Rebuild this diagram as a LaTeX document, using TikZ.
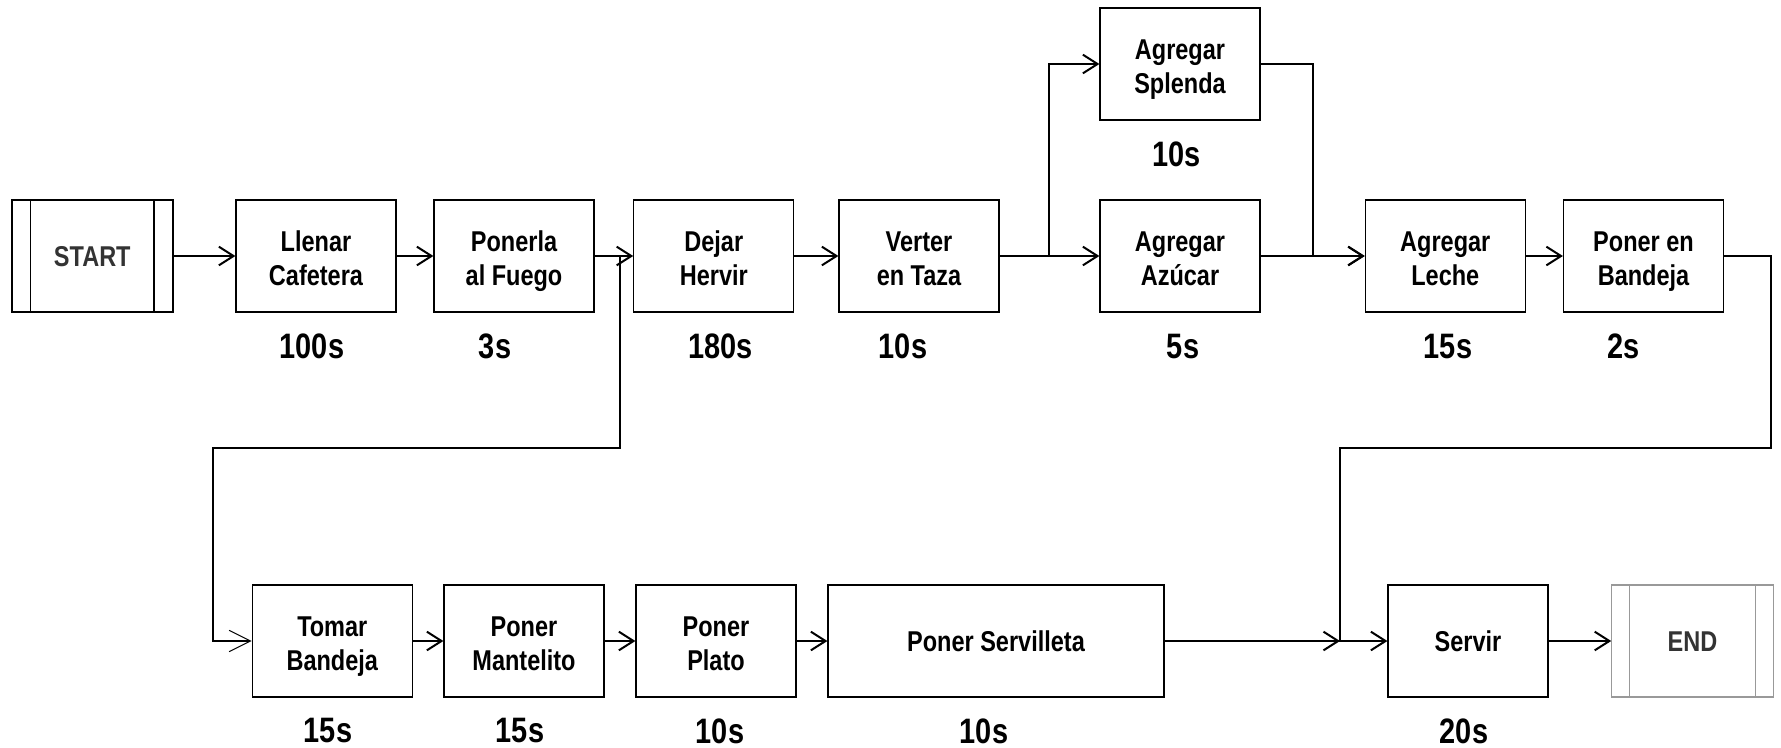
\documentclass[tikz,border=0pt]{standalone}
\usepackage{fontspec}
\IfFontExistsTF{Liberation Sans Narrow}{\setmainfont{Liberation Sans Narrow}}{\setmainfont[FakeStretch=0.82]{Liberation Sans}}
\usetikzlibrary{arrows.meta}
\definecolor{darkgraytxt}{HTML}{333333}
\definecolor{endgray}{HTML}{999999}
\newcommand\boxfont{\fontsize{21.5}{26}\selectfont\bfseries}
\newcommand\timefont{\fontsize{26.5}{32}\selectfont\bfseries}
\tikzset{
  box/.style={draw, line width=0.9pt, minimum width=120pt, minimum height=84pt, align=center, inner sep=0pt, font=\boxfont, text height=44.8pt, text depth=0pt},
  onebox/.style={box, text height=16pt, text depth=0pt},
  timelabel/.style={inner sep=0pt, font=\timefont},
  conn/.style={line width=1.5pt, -{Straight Barb[length=11pt,width=14pt]}},
  thinconn/.style={line width=0.8pt, -{Straight Barb[length=16pt,width=16pt]}},
}
\begin{document}
\begin{tikzpicture}[x=0.75pt,y=-0.75pt]
\useasboundingbox (0,0) rectangle (1781,747);
% start / end
\node[onebox, minimum width=121pt, line width=1.3pt, text=darkgraytxt] (start) at (92.3,256) {START};
\draw[line width=1pt] ([xshift=15pt]start.north west) -- ([xshift=15pt]start.south west);
\draw[line width=1pt] ([xshift=-15pt]start.north east) -- ([xshift=-15pt]start.south east);
% row 1
\node[box] (llenar) at (316,256) {Llenar\\Cafetera};
\node[box] (ponerla) at (514,256) {Ponerla\\al Fuego};
\node[box] (dejar) at (713.8,256) {Dejar\\Hervir};
\node[box] (verter) at (919,256) {Verter\\en Taza};
\node[box] (splenda) at (1180,64) {Agregar\\Splenda};
\node[box] (azucar) at (1180,256) {Agregar\\Azúcar};
\node[box] (leche) at (1445.3,256) {Agregar\\Leche};
\node[box] (bandeja) at (1643.5,256) {Poner en\\Bandeja};
% row 2
\node[box] (tomar) at (332.3,641) {Tomar\\Bandeja};
\node[box] (mantelito) at (524,641) {Poner\\Mantelito};
\node[box] (plato) at (716,641) {Poner\\Plato};
\node[onebox, minimum width=252pt] (servilleta) at (996,641) {Poner Servilleta};
\node[onebox] (servir) at (1468,641) {Servir};
\node[onebox, minimum width=121pt, draw=endgray, text=darkgraytxt] (end) at (1692.5,641) {END};
\draw[endgray, line width=0.8pt] ([xshift=14pt]end.north west) -- ([xshift=14pt]end.south west);
\draw[endgray, line width=0.8pt] ([xshift=-14pt]end.north east) -- ([xshift=-14pt]end.south east);
% time labels
\node[timelabel] (t1) at (312,346.5) {100s};
\node[timelabel] (t2) at (495,346.5) {3s};
\node[timelabel] (t3) at (720.3,346.5) {180s};
\node[timelabel] (t4) at (903,346.5) {10s};
\node[timelabel] (t5) at (1176.5,154) {10s};
\node[timelabel] (t6) at (1183,346.5) {5s};
\node[timelabel] (t7) at (1448,346.5) {15s};
\node[timelabel] (t8) at (1623.7,346.5) {2s};
\node[timelabel] (t9) at (328,731) {15s};
\node[timelabel] (t10) at (520,731) {15s};
\node[timelabel] (t11) at (720,731) {10s};
\node[timelabel] (t12) at (984,731) {10s};
\node[timelabel] (t13) at (1464,731) {20s};
% junction coordinates
\coordinate (j1) at (1049,256);
\coordinate (j2) at (1313,256);
\coordinate (c1) at (1771,448);
\coordinate (c2) at (1340,641);
\coordinate (d1) at (620,256);
\coordinate (d2) at (213,448);
% connectors row 1
\draw[conn] (start.east) -- (llenar.west);
\draw[conn] (llenar.east) -- (ponerla.west);
\draw[conn] (ponerla.east) -- (dejar.west);
\draw[conn] (dejar.east) -- (verter.west);
\draw[conn] (verter.east) -- (azucar.west);
\draw[conn] (verter.east) -- (j1) |- (splenda.west);
\draw[conn] (splenda.east) -| (j2) -- (leche.west);
\draw[conn] (azucar.east) -- (leche.west);
\draw[conn] (leche.east) -- (bandeja.west);
\draw[conn] (bandeja.east) -| (c1) -| (c2) -- (servir.west);
% to row 2
\draw[thinconn] (d1) |- (d2) |- (tomar.west);
\draw[conn] (tomar.east) -- (mantelito.west);
\draw[conn] (mantelito.east) -- (plato.west);
\draw[conn] (plato.east) -- (servilleta.west);
\draw[conn] (servilleta.east) -- (c2);
\draw[conn] (servir.east) -- (end.west);
\end{tikzpicture}
\end{document}
